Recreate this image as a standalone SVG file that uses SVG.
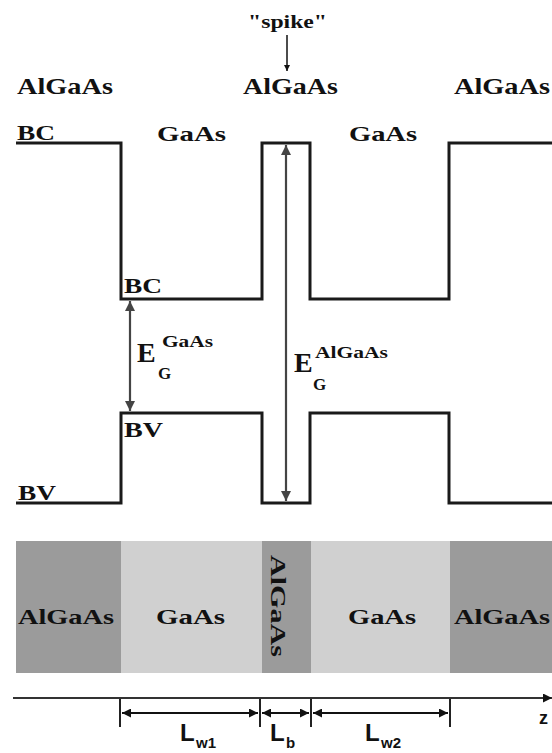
<svg xmlns="http://www.w3.org/2000/svg" width="552" height="753" viewBox="0 0 552 753">
<style>
.t{font-family:"Liberation Serif","Times New Roman",serif;font-weight:bold;fill:#111}
.s{font-family:"Liberation Sans",Arial,sans-serif;font-weight:bold;fill:#111}
.band{fill:none;stroke:#1a1a1a;stroke-width:3;stroke-linejoin:miter}
.gap{stroke:#444;stroke-width:2.2;fill:none}
.dim{stroke:#111;stroke-width:2;fill:none}
</style>
<defs>
<marker id="gb" viewBox="0 0 10 10" refX="10" refY="5" markerWidth="16" markerHeight="10" orient="auto-start-reverse" markerUnits="userSpaceOnUse">
<path d="M0,0 L10,5 L0,10 z" fill="#444"/>
</marker>
<marker id="da" viewBox="0 0 10 10" refX="10" refY="5" markerWidth="16" markerHeight="9" orient="auto-start-reverse" markerUnits="userSpaceOnUse">
<path d="M0,0 L10,5 L0,10 z" fill="#111"/>
</marker>
<marker id="sa" viewBox="0 0 10 10" refX="10" refY="5" markerWidth="10" markerHeight="6" orient="auto" markerUnits="userSpaceOnUse">
<path d="M0,0 L10,5 L0,10 z" fill="#111"/>
</marker>
</defs>

<g id="layers">
<rect x="16" y="541" width="105" height="132" fill="#9b9b9b"/>
<rect x="121" y="541" width="141" height="132" fill="#d0d0d0"/>
<rect x="262" y="541" width="49" height="132" fill="#9b9b9b"/>
<rect x="311" y="541" width="139" height="132" fill="#d0d0d0"/>
<rect x="450" y="541" width="102" height="132" fill="#9b9b9b"/>
<text class="t" x="18" y="624" font-size="22" textLength="96" lengthAdjust="spacingAndGlyphs">AlGaAs</text>
<text class="t" x="156" y="624" font-size="22" textLength="69" lengthAdjust="spacingAndGlyphs">GaAs</text>
<text class="t" transform="translate(271,555) rotate(90)" x="0" y="0" font-size="22" textLength="102" lengthAdjust="spacingAndGlyphs">AlGaAs</text>
<text class="t" x="348" y="624" font-size="22" textLength="68" lengthAdjust="spacingAndGlyphs">GaAs</text>
<text class="t" x="454" y="624" font-size="22" textLength="96" lengthAdjust="spacingAndGlyphs">AlGaAs</text>
</g>

<g id="band-conduction">
<path class="band" d="M16,143 H121 V299 H262 V143 H310 V299 H449 V143 H552"/>
</g>
<g id="band-valence">
<path class="band" d="M16,503 H121 V413 H262 V503 H310 V413 H449 V503 H552"/>
</g>

<g id="labels-top">
<text class="t" x="248" y="28" font-size="19" textLength="79" lengthAdjust="spacingAndGlyphs">"spike"</text>
<text class="t" x="17" y="94" font-size="24" textLength="96" lengthAdjust="spacingAndGlyphs">AlGaAs</text>
<text class="t" x="243" y="94" font-size="24" textLength="95" lengthAdjust="spacingAndGlyphs">AlGaAs</text>
<text class="t" x="454" y="94" font-size="24" textLength="96" lengthAdjust="spacingAndGlyphs">AlGaAs</text>
<text class="t" x="17" y="140" font-size="22" textLength="38" lengthAdjust="spacingAndGlyphs">BC</text>
<text class="t" x="157" y="141" font-size="22" textLength="69" lengthAdjust="spacingAndGlyphs">GaAs</text>
<text class="t" x="349" y="141" font-size="22" textLength="68" lengthAdjust="spacingAndGlyphs">GaAs</text>
<text class="t" x="124" y="293" font-size="22" textLength="38" lengthAdjust="spacingAndGlyphs">BC</text>
<text class="t" x="124" y="437" font-size="22" textLength="39" lengthAdjust="spacingAndGlyphs">BV</text>
<text class="t" x="18" y="500" font-size="22" textLength="38" lengthAdjust="spacingAndGlyphs">BV</text>
</g>

<g id="gap-gaas">
<text class="t" x="137" y="362" font-size="28">E</text>
<text class="t" x="162" y="347" font-size="17" textLength="51" lengthAdjust="spacingAndGlyphs">GaAs</text>
<text class="t" x="158" y="379" font-size="17">G</text>
</g>
<g id="gap-algaas">
<text class="t" x="294" y="372" font-size="28">E</text>
<text class="t" x="315" y="358" font-size="17" textLength="73" lengthAdjust="spacingAndGlyphs">AlGaAs</text>
<text class="t" x="313" y="390" font-size="17">G</text>
</g>

<g id="axis-labels">
<text class="s" x="180" y="741" font-size="24">L</text>
<text class="s" x="196" y="748" font-size="15">w1</text>
<text class="s" x="270" y="741" font-size="24">L</text>
<text class="s" x="286" y="748" font-size="15">b</text>
<text class="s" x="365" y="741" font-size="24">L</text>
<text class="s" x="381" y="748" font-size="15">w2</text>
<text class="s" x="539" y="724" font-size="18">z</text>
</g>

<g id="connectors">
<line x1="287" y1="35" x2="287" y2="71" stroke="#111" stroke-width="1.5" marker-end="url(#sa)"/>
<line class="gap" x1="130" y1="301" x2="130" y2="411" marker-start="url(#gb)" marker-end="url(#gb)"/>
<line class="gap" x1="286" y1="145" x2="286" y2="501" stroke-width="2" marker-start="url(#gb)" marker-end="url(#gb)"/>
<line x1="13" y1="698" x2="552" y2="698" stroke="#333" stroke-width="2" marker-end="url(#da)"/>
<line x1="120" y1="699" x2="120" y2="727" stroke="#222" stroke-width="2"/>
<line x1="260" y1="699" x2="260" y2="727" stroke="#222" stroke-width="2"/>
<line x1="311" y1="699" x2="311" y2="727" stroke="#222" stroke-width="2"/>
<line x1="450" y1="699" x2="450" y2="727" stroke="#222" stroke-width="2"/>
<line class="dim" x1="122" y1="713" x2="258" y2="713" marker-start="url(#da)" marker-end="url(#da)"/>
<line class="dim" x1="262" y1="713" x2="309" y2="713" marker-start="url(#da)" marker-end="url(#da)"/>
<line class="dim" x1="313" y1="713" x2="448" y2="713" marker-start="url(#da)" marker-end="url(#da)"/>
</g>
</svg>
